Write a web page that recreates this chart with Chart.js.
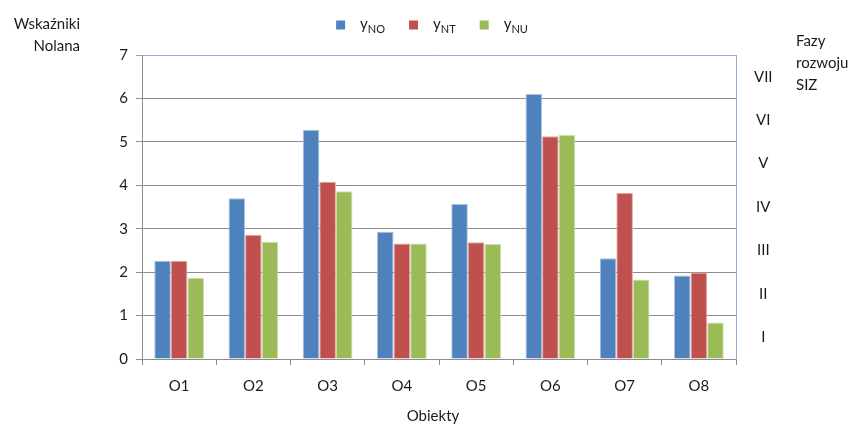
<!DOCTYPE html>
<html>
<head>
<meta charset="utf-8">
<script src="https://cdn.jsdelivr.net/npm/chart.js@4"></script>
<style>
  html, body { margin: 0; padding: 0; background: #fff; }
  #wrap { width: 856px; height: 425px; position: relative; }
</style>
</head>
<body>
<div id="wrap"><canvas id="c" width="856" height="425"></canvas></div>
<script>
// Objects and Nolan indicators
const categories = ['O1', 'O2', 'O3', 'O4', 'O5', 'O6', 'O7', 'O8'];
const yNO = [2.26, 3.70, 5.28, 2.93, 3.57, 6.10, 2.32, 1.92];
const yNT = [2.26, 2.86, 4.08, 2.66, 2.69, 5.13, 3.82, 1.99];
const yNU = [1.87, 2.70, 3.86, 2.66, 2.65, 5.16, 1.83, 0.84];
const phaseLabels = ['I', 'II', 'III', 'IV', 'V', 'VI', 'VII'];
const seriesNames = [['y', 'NO'], ['y', 'NT'], ['y', 'NU']];

const FONT = 'Lato, "Open Sans", sans-serif';
const TXT = '#1a1a1a';
const SIZE = 15;

// Legend with subscripted series names, plus free-standing captions
const captions = {
  id: 'captions',
  afterDraw(chart) {
    const ctx = chart.ctx;
    ctx.save();
    ctx.fillStyle = TXT;
    ctx.textBaseline = 'middle';

    // y-axis caption
    ctx.font = SIZE + 'px ' + FONT;
    ctx.textAlign = 'right';
    ctx.fillText('Wskaźniki', 80, 24);
    ctx.fillText('Nolana', 80, 46);

    // right-hand caption
    ctx.textAlign = 'left';
    ctx.fillText('Fazy', 796, 41);
    ctx.fillText('rozwoju', 796, 63);
    ctx.fillText('SIZ', 796, 85);

    // x-axis caption
    ctx.textAlign = 'center';
    ctx.fillText('Obiekty', 433, 416);

    // legend
    const items = chart.data.datasets.map((ds, i) => {
      ctx.font = SIZE + 'px ' + FONT;
      const w1 = ctx.measureText(seriesNames[i][0]).width;
      ctx.font = '11px ' + FONT;
      const w2 = ctx.measureText(seriesNames[i][1]).width;
      return { color: ds.backgroundColor, main: seriesNames[i][0], sub: seriesNames[i][1], w1, w2 };
    });
    const box = 9, gapBox = 15, gapItem = 24;
    let total = 0;
    items.forEach((it, i) => { total += box + gapBox + it.w1 + it.w2 + (i < items.length - 1 ? gapItem : 0); });
    let x = 432 - total / 2;
    const yMid = 25;
    items.forEach(it => {
      ctx.fillStyle = it.color;
      ctx.fillRect(x, yMid - box / 2, box, box);
      x += box + gapBox;
      ctx.fillStyle = TXT;
      ctx.textAlign = 'left';
      ctx.textBaseline = 'alphabetic';
      ctx.font = SIZE + 'px ' + FONT;
      ctx.fillText(it.main, x, yMid + 4);
      x += it.w1;
      ctx.font = '11px ' + FONT;
      ctx.fillText(it.sub, x, yMid + 8);
      x += it.w2 + gapItem;
    });
    ctx.restore();
  }
};

new Chart(document.getElementById('c'), {
  type: 'bar',
  data: {
    labels: categories,
    datasets: [
      { label: 'yNO', data: yNO, backgroundColor: '#4F81BD', borderColor: '#A9C1DE', borderWidth: 1, borderSkipped: 'bottom' },
      { label: 'yNT', data: yNT, backgroundColor: '#C0504D', borderColor: '#DFA8A6', borderWidth: 1, borderSkipped: 'bottom' },
      { label: 'yNU', data: yNU, backgroundColor: '#9BBB59', borderColor: '#CDDDAC', borderWidth: 1, borderSkipped: 'bottom' }
    ]
  },
  options: {
    responsive: false,
    animation: false,
    devicePixelRatio: 1,
    layout: { padding: { top: 55, right: 0, bottom: 0, left: 0 } },
    datasets: { bar: { barPercentage: 1, categoryPercentage: 0.67 } },
    plugins: {
      legend: { display: false },
      tooltip: { enabled: false }
    },
    scales: {
      x: {
        offset: true,
        grid: {
          offset: true,
          drawOnChartArea: false,
          drawTicks: true,
          tickLength: 6,
          color: '#8C8C8C'
        },
        border: { color: '#8C8C8C', width: 1 },
        ticks: { color: TXT, font: { family: FONT, size: SIZE }, padding: 12 },
        afterFit(s) { s.height = 66; }
      },
      y: {
        min: 0,
        max: 7,
        ticks: { stepSize: 1, color: TXT, font: { family: FONT, size: SIZE }, padding: 8 },
        grid: {
          tickLength: 6,
          color: ctx => (ctx.tick && ctx.tick.value === 7) ? '#8EACD3' : '#8C8C8C'
        },
        border: { color: '#8C8C8C', width: 1 },
        afterFit(s) { s.width = 142; }
      },
      y2: {
        position: 'right',
        min: 0,
        max: 7,
        grid: { drawOnChartArea: false, drawTicks: false },
        border: { color: '#8EACD3', width: 1 },
        afterBuildTicks(s) {
          s.ticks = phaseLabels.map((_, i) => ({ value: i + 0.5 }));
        },
        ticks: {
          crossAlign: 'center',
          padding: 18,
          color: TXT,
          font: { family: FONT, size: SIZE },
          callback: (v) => phaseLabels[Math.round(v - 0.5)]
        },
        afterFit(s) { s.width = 120; }
      }
    }
  },
  plugins: [captions]
});
</script>
</body>
</html>
